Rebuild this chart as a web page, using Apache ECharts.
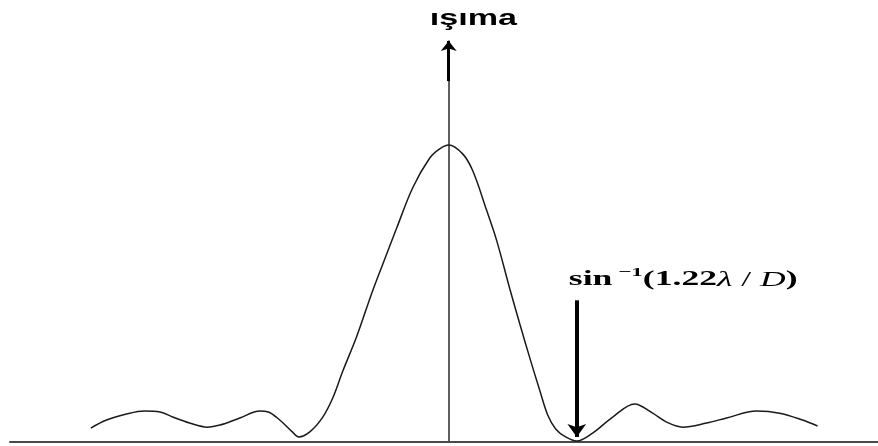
<!DOCTYPE html>
<html>
<head>
<meta charset="utf-8">
<script src="https://cdn.jsdelivr.net/npm/echarts@6/dist/echarts.min.js"></script>
<style>
  html, body { margin: 0; padding: 0; background: #ffffff; }
  #chart { width: 878px; height: 446px; }
</style>
</head>
<body>
<div id="chart"></div>
<script>
// Diffraction pattern of a circular aperture: intensity against angle
const angle = [
  -3.41, -3.26, -3.07, -2.90, -2.75, -2.63, -2.47, -2.30, -2.18, -1.99,
  -1.80, -1.72, -1.61, -1.49, -1.43, -1.324, -1.20, -1.105, -1.01,
  -0.876, -0.724, -0.590, -0.495, -0.343, -0.181, -0.086, 0,
  0.133, 0.229, 0.362, 0.457, 0.581, 0.676, 0.771, 0.867, 0.943, 1.019, 1.114,
  1.22, 1.371, 1.562, 1.771, 1.943, 2.076, 2.229, 2.457, 2.648, 2.933,
  3.152, 3.371, 3.514
];
const intensity = [
  0.047, 0.074, 0.094, 0.104, 0.101, 0.084, 0.064, 0.050, 0.057, 0.081,
  0.104, 0.101, 0.074, 0.034, 0.017, 0.034, 0.084, 0.148, 0.238,
  0.356, 0.510, 0.634, 0.721, 0.856, 0.956, 0.987, 1.0,
  0.970, 0.913, 0.779, 0.678, 0.517, 0.399, 0.285, 0.174, 0.091, 0.044, 0.017,
  0.003, 0.030, 0.084, 0.128, 0.097, 0.067, 0.050, 0.064, 0.081, 0.104,
  0.097, 0.074, 0.054
];

// Axis title and the first-minimum marker
const axisTitle = 'ışıma';
const firstMinAngle = 1.22;
const firstMinArrowFrom = 0.477;
const firstMinArrowTo = 0.017;
const upArrowFrom = 1.215;
const xRange = [-4.18, 4.09];
const yRange = [0, 1.35];

const chart = echarts.init(document.getElementById('chart'), null, { renderer: 'canvas' });

const curve = angle.map((a, i) => [a, intensity[i]]);

chart.setOption({
  animation: false,
  backgroundColor: '#ffffff',
  grid: { left: 10, right: 0, top: 41, bottom: 4, containLabel: false, outerBoundsMode: 'none' },
  xAxis: {
    type: 'value', min: xRange[0], max: xRange[1],
    axisLine: { show: true, onZero: true, lineStyle: { color: '#4a4a4a', width: 2 } },
    axisTick: { show: false }, axisLabel: { show: false }, splitLine: { show: false }
  },
  yAxis: {
    type: 'value', min: yRange[0], max: yRange[1],
    axisLine: { show: true, onZero: true, lineStyle: { color: '#2a2a2a', width: 1.5 } },
    axisTick: { show: false }, axisLabel: { show: false }, splitLine: { show: false }
  },
  series: [{
    type: 'line',
    data: curve,
    symbol: 'none',
    smooth: 0.35,
    lineStyle: { color: '#1a1a1a', width: 1.5 },
    z: 3,
    markLine: {
      silent: true,
      animation: false,
      label: { show: false },
      data: [
        [
          { coord: [0, upArrowFrom], symbol: 'none', lineStyle: { color: '#000', width: 3, type: 'solid' } },
          { coord: [0, yRange[1]], symbol: 'arrow', symbolSize: [12, 10] }
        ],
        [
          { coord: [firstMinAngle, firstMinArrowFrom], symbol: 'none', lineStyle: { color: '#000', width: 4, type: 'solid' } },
          { coord: [firstMinAngle, firstMinArrowTo], symbol: 'arrow', symbolSize: [14, 13] }
        ]
      ]
    }
  }]
});

// Text labels placed from data coordinates
const axisTopPx = chart.convertToPixel({ gridIndex: 0 }, [0, yRange[1]]);
const markPx = chart.convertToPixel({ gridIndex: 0 }, [firstMinAngle, firstMinArrowFrom]);

chart.setOption({
  graphic: [
    {
      type: 'text',
      x: axisTopPx[0] - 19, y: axisTopPx[1] - 11,
      scaleX: 1.55,
      style: {
        text: axisTitle,
        font: 'bold 22px "Liberation Sans", Arial, sans-serif',
        fill: '#000',
        textAlign: 'left',
        textVerticalAlign: 'bottom'
      }
    },
    {
      type: 'text',
      x: markPx[0] - 8, y: markPx[1] - 10,
      scaleX: 1.78,
      style: {
        text: '{b|sin}{sup| −1}{b|(1.22}{bi|λ}{n| / }{i|D}{b|)}',
        textAlign: 'left',
        textVerticalAlign: 'bottom',
        fill: '#000',
        rich: {
          b:   { font: 'bold 20px "Liberation Serif", "Times New Roman", serif', fill: '#000', lineHeight: 24, verticalAlign: 'bottom' },
          sup: { font: 'bold 13px "Liberation Serif", "Times New Roman", serif', fill: '#000', lineHeight: 24, verticalAlign: 'top' },
          bi:  { font: 'italic 20px "Liberation Serif", "Times New Roman", serif', fill: '#000', lineHeight: 24, verticalAlign: 'bottom' },
          n:   { font: '20px "Liberation Serif", "Times New Roman", serif', fill: '#000', lineHeight: 24, verticalAlign: 'bottom' },
          i:   { font: 'italic 20px "Liberation Serif", "Times New Roman", serif', fill: '#000', lineHeight: 24, verticalAlign: 'bottom' }
        }
      }
    }
  ]
});
</script>
</body>
</html>
